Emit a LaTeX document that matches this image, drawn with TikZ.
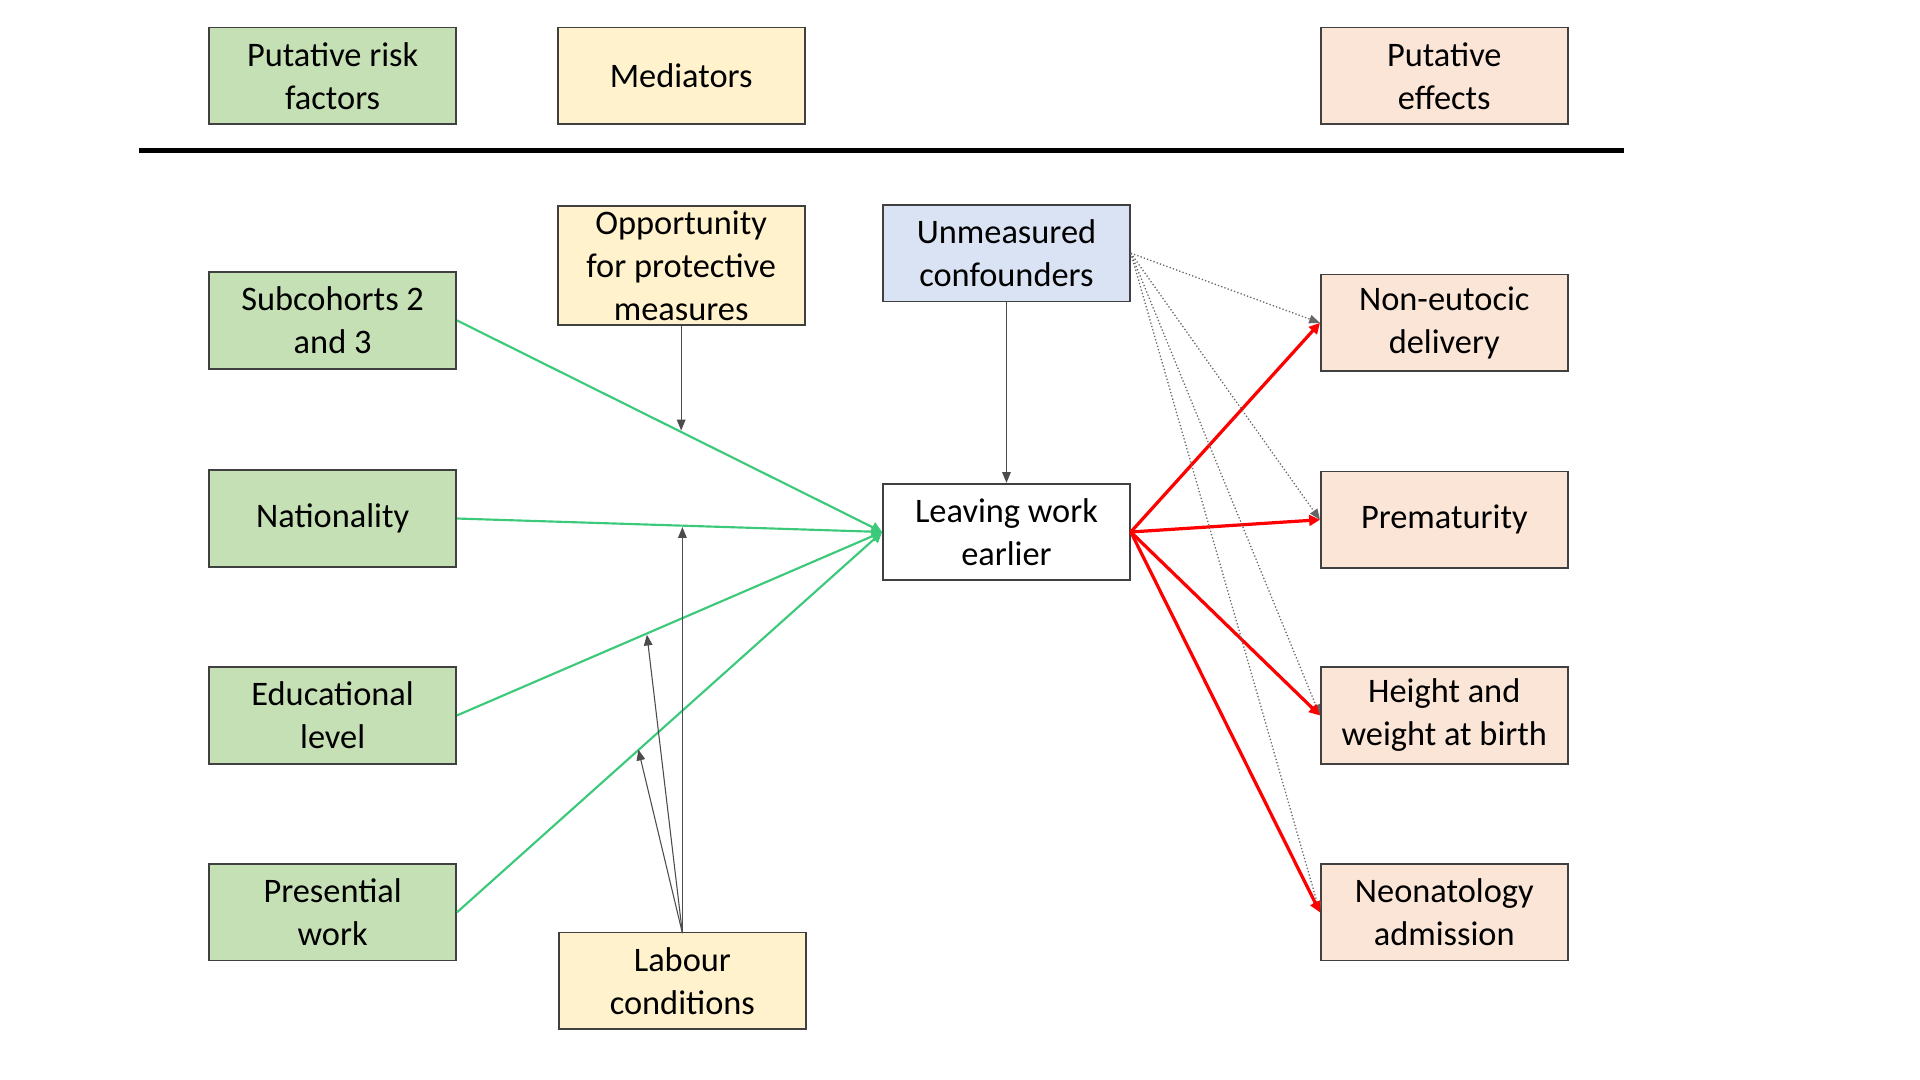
\documentclass[tikz,border=0pt]{standalone}
\usepackage{fontspec}
\setmainfont{Carlito}
\usetikzlibrary{arrows.meta}
\definecolor{gfill}{HTML}{C5E0B4}
\definecolor{yfill}{HTML}{FFF2CC}
\definecolor{pfill}{HTML}{FBE5D6}
\definecolor{bfill}{HTML}{DAE3F3}
\definecolor{gline}{HTML}{3CC97A}
\begin{document}
\begin{tikzpicture}[x=0.02cm,y=-0.02cm,
  box/.style={draw=black!75,line width=0.8pt,minimum width=4.04cm,minimum height=1.58cm,align=center,font=\fontsize{16}{20}\selectfont,inner sep=1pt},
  g/.style={box,fill=gfill}, ye/.style={box,fill=yfill}, pe/.style={box,fill=pfill},
  gr/.style={gline,line width=1pt,-{Triangle[length=5pt,width=5pt]}},
  rd/.style={red,line width=1.5pt,-{Triangle[length=5pt,width=5pt]}},
  bk/.style={black!70,line width=0.5pt,-{Triangle[length=5pt,width=4pt]}},
  dt/.style={black!60,line width=0.6pt,densely dotted,-{Triangle[length=5pt,width=4pt]}}]
\useasboundingbox (0,0) rectangle (1570,883);
\node[g] (h1) at (272,62) {Putative risk\\factors};
\node[ye] (h2) at (557,62) {Mediators};
\node[pe] (h3) at (1181,62) {Putative\\effects};
\coordinate (l1) at (114,123); \coordinate (l2) at (1328,123);
\draw[line width=2.4pt] (l1) -- (l2);
\node[g] (s) at (272,262) {Subcohorts 2\\and 3};
\node[g] (n) at (272,424) {Nationality};
\node[g] (e) at (272,585) {Educational\\level};
\node[g] (p) at (272,746) {Presential\\work};
\node[ye,minimum height=1.94cm] (o) at (557,217) {Opportunity\\for protective\\measures};
\node[ye] (lc) at (558,802) {Labour\\conditions};
\node[box,fill=bfill] (u) at (823,207) {Unmeasured\\confounders};
\node[box,fill=white] (lw) at (823,435) {Leaving work\\earlier};
\node[pe] (t1) at (1181,264) {Non-eutocic\\delivery};
\node[pe] (t2) at (1181,425) {Prematurity};
\node[pe] (t3) at (1181,585) {Height and\\weight at birth};
\node[pe] (t4) at (1181,746) {Neonatology\\admission};
\foreach \a in {s,n,e,p} \draw[gr] (\a.east) -- (lw.west);
\coordinate (m1) at (557,352);
\coordinate (m2) at (558,431);
\coordinate (m3) at (529,519);
\coordinate (m4) at (522,613);
\draw[bk] (o.south) -- (m1);
\coordinate (lt) at (558,763);
\draw[bk] (lt) -- (m2);
\draw[bk] (lt) -- (m3);
\draw[bk] (lt) -- (m4);
\draw[bk] (u.south) -- (lw.north);
\foreach \t in {t1,t2,t3,t4} {\draw[dt] (u.east) -- (\t.west); \draw[rd] (lw.east) -- (\t.west);}
\end{tikzpicture}
\end{document}
